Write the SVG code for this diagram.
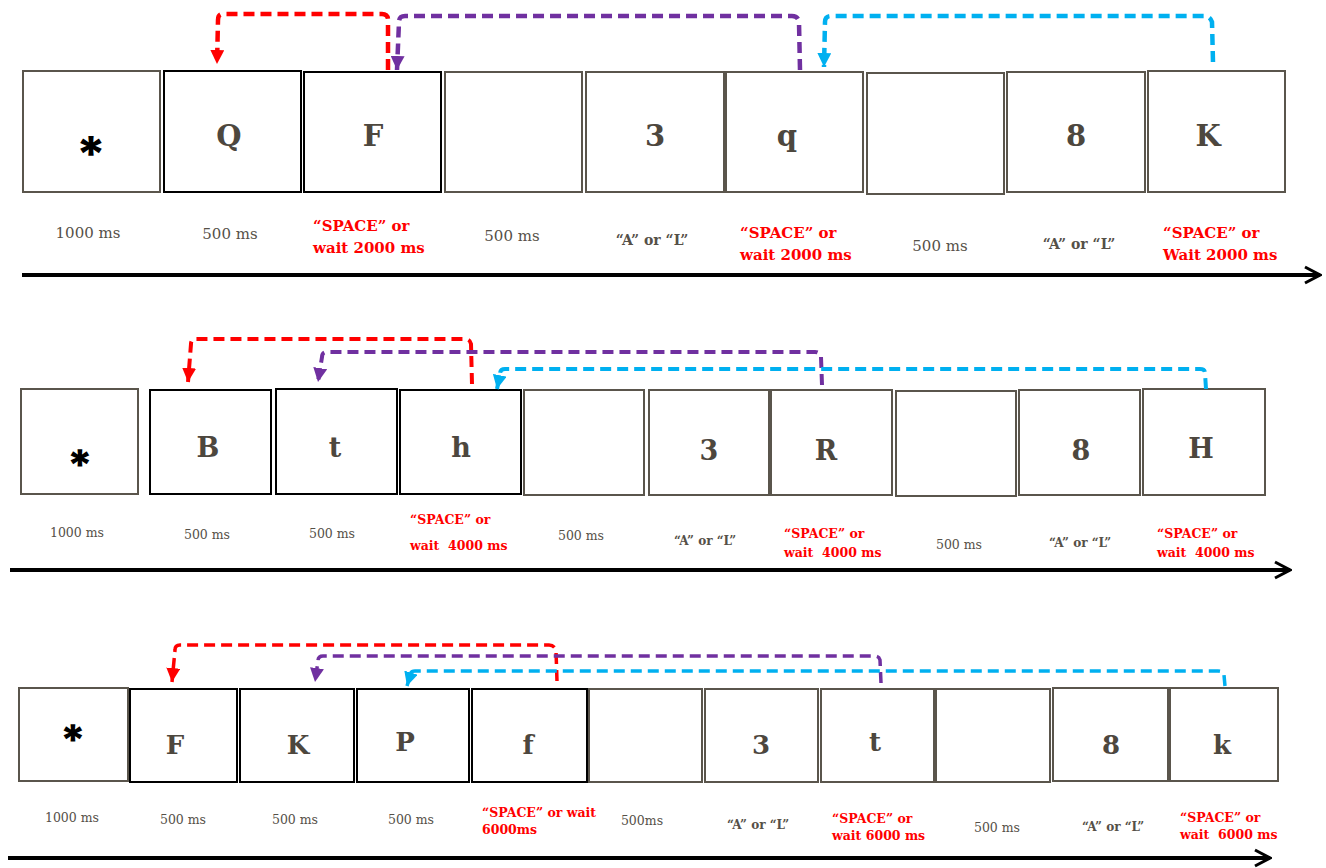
<svg xmlns="http://www.w3.org/2000/svg" width="1326" height="868" viewBox="0 0 1326 868">
<style>
.g{fill:#fff;stroke:#5a554c;stroke-width:2}
.k{fill:#fff;stroke:#000;stroke-width:2}
.L{font-family:"DejaVu Serif","Liberation Serif",serif;font-weight:bold;fill:#4d473e;text-anchor:middle}
.ast{font-family:"DejaVu Serif","Liberation Serif",serif;font-weight:bold;fill:#000;stroke:#000;stroke-width:1.6;text-anchor:middle}
.d{font-family:"DejaVu Serif","Liberation Serif",serif;fill:#555048;text-anchor:middle}
.al{font-family:"DejaVu Serif","Liberation Serif",serif;font-weight:bold;fill:#555048;text-anchor:middle}
.r{font-family:"DejaVu Serif","Liberation Serif",serif;font-weight:bold;fill:#ff0000;white-space:pre}
.t{stroke:#000;fill:none}
.c{fill:none;stroke-dasharray:11 6}
.red{stroke:#ff0000}
.pur{stroke:#7030a0}
.blu{stroke:#00b0f0}
</style>
<defs>
<marker id="mr" markerUnits="userSpaceOnUse" viewBox="0 0 14 14" refX="14" refY="7" markerWidth="14" markerHeight="14" orient="auto"><path d="M0,0 L14,7 L0,14 Z" fill="#ff0000"/></marker>
<marker id="mp" markerUnits="userSpaceOnUse" viewBox="0 0 14 14" refX="14" refY="7" markerWidth="14" markerHeight="14" orient="auto"><path d="M0,0 L14,7 L0,14 Z" fill="#7030a0"/></marker>
<marker id="mb" markerUnits="userSpaceOnUse" viewBox="0 0 14 14" refX="14" refY="7" markerWidth="14" markerHeight="14" orient="auto"><path d="M0,0 L14,7 L0,14 Z" fill="#00b0f0"/></marker>
<marker id="mt" markerUnits="userSpaceOnUse" viewBox="0 0 20 20" refX="18" refY="10" markerWidth="20" markerHeight="20" orient="auto"><path d="M3,2 L18,10 L3,18" fill="none" stroke="#000" stroke-width="3"/></marker>
</defs>

<!-- Row 1 -->
<g id="r1n1"><rect class="g" x="23" y="71" width="137" height="121"/><text class="ast" x="91" y="166" font-size="40">*</text></g>
<g id="r1n2"><rect class="k" x="164" y="71" width="137" height="121"/><text class="L" x="229" y="146" font-size="29">Q</text></g>
<g id="r1n3"><rect class="k" x="304" y="72" width="137" height="120"/><text class="L" x="373" y="146" font-size="29">F</text></g>
<g id="r1n4"><rect class="g" x="445" y="72" width="137" height="120"/></g>
<g id="r1n5"><rect class="g" x="586" y="72" width="138" height="120"/><text class="L" x="655" y="146" font-size="29">3</text></g>
<g id="r1n6"><rect class="g" x="726" y="72" width="137" height="120"/><text class="L" x="787" y="146" font-size="29">q</text></g>
<g id="r1n7"><rect class="g" x="867" y="73" width="137" height="121"/></g>
<g id="r1n8"><rect class="g" x="1007" y="72" width="138" height="120"/><text class="L" x="1076" y="146" font-size="29">8</text></g>
<g id="r1n9"><rect class="g" x="1148" y="71" width="137" height="121"/><text class="L" x="1208" y="146" font-size="29">K</text></g>

<g id="r1labels">
<text class="d" x="88" y="238" font-size="15">1000 ms</text>
<text class="d" x="230" y="239" font-size="15">500 ms</text>
<text class="r" x="313" y="231" font-size="15">“SPACE” or</text>
<text class="r" x="313" y="253" font-size="15">wait 2000 ms</text>
<text class="d" x="512" y="241" font-size="15">500 ms</text>
<text class="al" x="652" y="245" font-size="14">“A” or “L”</text>
<text class="r" x="740" y="238" font-size="15">“SPACE” or</text>
<text class="r" x="740" y="260" font-size="15">wait 2000 ms</text>
<text class="d" x="940" y="251" font-size="15">500 ms</text>
<text class="al" x="1079" y="249" font-size="14">“A” or “L”</text>
<text class="r" x="1163" y="238" font-size="15">“SPACE” or</text>
<text class="r" x="1163" y="260" font-size="15">Wait 2000 ms</text>
</g>

<!-- Row 2 -->
<g id="r2n1"><rect class="g" x="21" y="389" width="117" height="105"/><text class="ast" x="80" y="475" font-size="34">*</text></g>
<g id="r2n2"><rect class="k" x="150" y="390" width="121" height="104"/><text class="L" x="208" y="457" font-size="27">B</text></g>
<g id="r2n3"><rect class="k" x="276" y="389" width="121" height="105"/><text class="L" x="335" y="457" font-size="27">t</text></g>
<g id="r2n4"><rect class="k" x="400" y="390" width="121" height="104"/><text class="L" x="461" y="457" font-size="27">h</text></g>
<g id="r2n5"><rect class="g" x="524" y="390" width="120" height="105"/></g>
<g id="r2n6"><rect class="g" x="649" y="390" width="120" height="105"/><text class="L" x="709" y="460" font-size="27">3</text></g>
<g id="r2n7"><rect class="g" x="771" y="390" width="121" height="105"/><text class="L" x="826" y="460" font-size="27">R</text></g>
<g id="r2n8"><rect class="g" x="896" y="391" width="120" height="105"/></g>
<g id="r2n9"><rect class="g" x="1019" y="390" width="121" height="105"/><text class="L" x="1081" y="460" font-size="27">8</text></g>
<g id="r2n10"><rect class="g" x="1143" y="389" width="122" height="106"/><text class="L" x="1201" y="458" font-size="27">H</text></g>

<g id="r2labels">
<text class="d" x="77" y="537" font-size="12.5">1000 ms</text>
<text class="d" x="207" y="539" font-size="12.5">500 ms</text>
<text class="d" x="332" y="538" font-size="12.5">500 ms</text>
<text class="r" x="410" y="524" font-size="12.5">“SPACE” or</text>
<text class="r" x="410" y="550" font-size="12.5">wait  4000 ms</text>
<text class="d" x="581" y="540" font-size="12.5">500 ms</text>
<text class="al" x="705" y="545" font-size="12">“A” or “L”</text>
<text class="r" x="784" y="538" font-size="12.5">“SPACE” or</text>
<text class="r" x="784" y="557" font-size="12.5">wait  4000 ms</text>
<text class="d" x="959" y="549" font-size="12.5">500 ms</text>
<text class="al" x="1080" y="547" font-size="12">“A” or “L”</text>
<text class="r" x="1157" y="538" font-size="12.5">“SPACE” or</text>
<text class="r" x="1157" y="557" font-size="12.5">wait  4000 ms</text>
</g>

<!-- Row 3 -->
<g id="r3n1"><rect class="g" x="19" y="688" width="109" height="93"/><text class="ast" x="73" y="750" font-size="34">*</text></g>
<g id="r3n2"><rect class="k" x="130" y="689" width="107" height="93"/><text class="L" x="175" y="754" font-size="26">F</text></g>
<g id="r3n3"><rect class="k" x="240" y="689" width="114" height="93"/><text class="L" x="298" y="754" font-size="26">K</text></g>
<g id="r3n4"><rect class="k" x="357" y="689" width="112" height="93"/><text class="L" x="405" y="751" font-size="26">P</text></g>
<g id="r3n5"><rect class="k" x="472" y="689" width="115" height="93"/><text class="L" x="528" y="754" font-size="26">f</text></g>
<g id="r3n6"><rect class="g" x="589" y="689" width="113" height="93"/></g>
<g id="r3n7"><rect class="g" x="705" y="689" width="113" height="93"/><text class="L" x="761" y="754" font-size="26">3</text></g>
<g id="r3n8"><rect class="g" x="821" y="689" width="113" height="93"/><text class="L" x="875" y="751" font-size="26">t</text></g>
<g id="r3n9"><rect class="g" x="936" y="689" width="114" height="93"/></g>
<g id="r3n10"><rect class="g" x="1053" y="688" width="115" height="93"/><text class="L" x="1111" y="754" font-size="26">8</text></g>
<g id="r3n11"><rect class="g" x="1170" y="688" width="108" height="93"/><text class="L" x="1222" y="754" font-size="26">k</text></g>

<g id="r3labels">
<text class="d" x="72" y="822" font-size="12.5">1000 ms</text>
<text class="d" x="183" y="824" font-size="12.5">500 ms</text>
<text class="d" x="295" y="824" font-size="12.5">500 ms</text>
<text class="d" x="411" y="824" font-size="12.5">500 ms</text>
<text class="r" x="482" y="817" font-size="12.5">“SPACE” or wait</text>
<text class="r" x="482" y="834" font-size="12.5">6000ms</text>
<text class="d" x="642" y="825" font-size="12.5">500ms</text>
<text class="al" x="758" y="829" font-size="12">“A” or “L”</text>
<text class="r" x="832" y="823" font-size="12.5">“SPACE” or</text>
<text class="r" x="832" y="840" font-size="12.5">wait 6000 ms</text>
<text class="d" x="997" y="832" font-size="12.5">500 ms</text>
<text class="al" x="1113" y="831" font-size="12">“A” or “L”</text>
<text class="r" x="1180" y="822" font-size="12.5">“SPACE” or</text>
<text class="r" x="1180" y="839" font-size="12.5">wait  6000 ms</text>
</g>

<!-- Connectors -->
<g id="connectors">
<path class="t" stroke-width="4" d="M22,275 L1320,275" marker-end="url(#mt)"/>
<path class="t" stroke-width="4" d="M10,570 L1290,570" marker-end="url(#mt)"/>
<path class="t" stroke-width="4" d="M8,858 L1270,858" marker-end="url(#mt)"/>

<path class="c red" stroke-width="4.5" d="M388,70 L388,20 Q388,14 382,14 L223,14 Q218,14 218,20 L217,64" marker-end="url(#mr)"/>
<path class="c pur" stroke-width="4.5" d="M800,70 L799,22 Q798,16 792,16 L405,16 Q399,16 399,22 L397,70" marker-end="url(#mp)"/>
<path class="c blu" stroke-width="4.5" d="M1213,62 L1212,22 Q1210,16 1204,16 L831,16 Q825,16 825,22 L824,67" marker-end="url(#mb)"/>

<path class="c red" stroke-width="4" d="M472,384 L471,344 Q470,339 465,339 L196,339 Q191,339 191,344 L188,382" marker-end="url(#mr)"/>
<path class="c pur" stroke-width="4" d="M822,385 L821,357 Q820,352 815,352 L327,352 Q322,352 322,357 L318,382" marker-end="url(#mp)"/>
<path class="c blu" stroke-width="4" d="M1206,389 L1205,373 Q1205,369 1200,369 L505,369 Q500,369 500,374 L497,389" marker-end="url(#mb)"/>

<path class="c red" stroke-width="3.5" d="M557,681 L556,650 Q554,645 549,645 L180,645 Q175,645 175,650 L172,682" marker-end="url(#mr)"/>
<path class="c pur" stroke-width="3.5" d="M881,683 L880,660 Q879,656 874,656 L323,656 Q318,656 318,661 L315,682" marker-end="url(#mp)"/>
<path class="c blu" stroke-width="3.5" d="M1225,686 L1224,675 Q1223,671 1218,671 L415,671 Q410,671 410,676 L407,686" marker-end="url(#mb)"/>
</g>
</svg>
